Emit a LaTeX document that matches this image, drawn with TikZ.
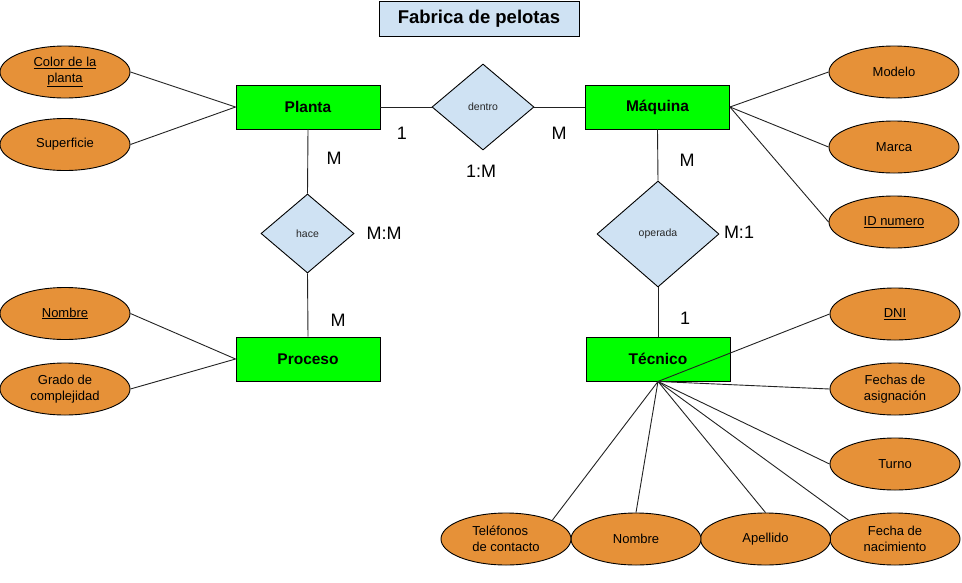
\documentclass[tikz,border=0pt]{standalone}
\usepackage{fontspec}
\setmainfont{Liberation Sans}
\usetikzlibrary{shapes.geometric}
\definecolor{entgreen}{HTML}{00FF00}
\definecolor{attrorange}{HTML}{E69138}
\definecolor{relblue}{HTML}{CFE2F3}
\definecolor{edgegray}{HTML}{222222}
\tikzset{
  entity/.style={draw=black, line width=0.9pt, fill=entgreen, minimum width=144pt, minimum height=44pt, inner sep=0pt, font=\fontsize{15.5}{18}\selectfont\bfseries},
  attr/.style={ellipse, draw=black, line width=0.9pt, fill=attrorange, minimum width=130pt, minimum height=52pt, inner sep=0pt, align=center, font=\fontsize{13}{16}\selectfont},
  rel/.style={diamond, draw=black, line width=0.9pt, fill=relblue, inner sep=0pt, font=\fontsize{10.5}{12}\selectfont, text=black!85},
  card/.style={font=\fontsize{18}{20}\selectfont, inner sep=0pt},
  link/.style={draw=edgegray, line width=0.9pt},
}
\begin{document}
\begin{tikzpicture}[x=1pt, y=-1pt]
\useasboundingbox (0,0) rectangle (962,582);
% title
\node[draw=black, line width=0.9pt, fill=relblue, minimum width=200pt, minimum height=35pt, inner sep=0pt, font=\fontsize{18.5}{20}\selectfont\bfseries] (title) at (479,18.5) {Fabrica de pelotas};
% entities
\node[entity] (planta) at (308,107) {Planta};
\node[entity] (maq) at (657.5,107) {Máquina};
\node[entity] (proc) at (308,359) {Proceso};
\node[entity] (tec) at (658,359) {Técnico};
% relationships
\node[rel, minimum width=102pt, minimum height=86pt] (dentro) at (483,107) {dentro};
\node[rel, minimum width=93pt, minimum height=79pt] (hace) at (307.5,233.5) {hace};
\node[rel, minimum width=122pt, minimum height=106pt] (operada) at (658,234) {operada};
% attributes
\node[attr] (color) at (65,72) {\underline{Color de la}\\\underline{planta}};
\node[attr] (sup) at (65,144.5) {Superficie};
\node[attr] (pnom) at (65,313.5) {\underline{Nombre}};
\node[attr] (grado) at (65,389) {Grado de\\complejidad};
\node[attr] (modelo) at (894,72) {Modelo};
\node[attr] (marca) at (894,147) {Marca};
\node[attr] (idnum) at (894,222) {\underline{ID numero}};
\node[attr] (dni) at (895,314) {\underline{DNI}};
\node[attr] (fasig) at (895,389) {Fechas de\\asignación};
\node[attr] (turno) at (895,464) {Turno};
\node[attr] (fnac) at (895,539) {Fecha de\\nacimiento};
\node[attr] (ape) at (765.5,539) {Apellido};
\node[attr] (tnom) at (636,539) {Nombre};
\node[attr, align=left] (tel) at (506,539) {Teléfonos\\de contacto};
% connectors
\draw[link] (planta.east) -- (dentro.west);
\draw[link] (dentro.east) -- (maq.west);
\draw[link] (planta.south) -- (hace.north);
\draw[link] (hace.south) -- (proc.north);
\draw[link] (maq.south) -- (operada.north);
\draw[link] (operada.south) -- (tec.north);
\draw[link] (planta.west) -- (color.east);
\draw[link] (planta.west) -- (sup.east);
\draw[link] (proc.west) -- (pnom.east);
\draw[link] (proc.west) -- (grado.east);
\draw[link] (maq.east) -- (modelo.west);
\draw[link] (maq.east) -- (marca.west);
\draw[link] (maq.east) -- (idnum.west);
\draw[link] (tec.south) -- (dni.west);
\draw[link] (tec.south) -- (fasig.west);
\draw[link] (tec.south) -- (turno.west);
\draw[link] (tec.south) -- (fnac.north west);
\draw[link] (tec.south) -- (ape.north);
\draw[link] (tec.south) -- (tnom.north);
\draw[link] (tec.south) -- (tel.north east);
% cardinalities
\node[card] (c1) at (402,133) {1};
\node[card] (c2) at (559,133) {M};
\node[card] (c3) at (481,171) {1:M};
\node[card] (c4) at (334,158) {M};
\node[card] (c5) at (384,233) {M:M};
\node[card] (c6) at (338,320) {M};
\node[card] (c7) at (687,160) {M};
\node[card] (c8) at (739,232) {M:1};
\node[card] (c9) at (685,318) {1};
\end{tikzpicture}
\end{document}
